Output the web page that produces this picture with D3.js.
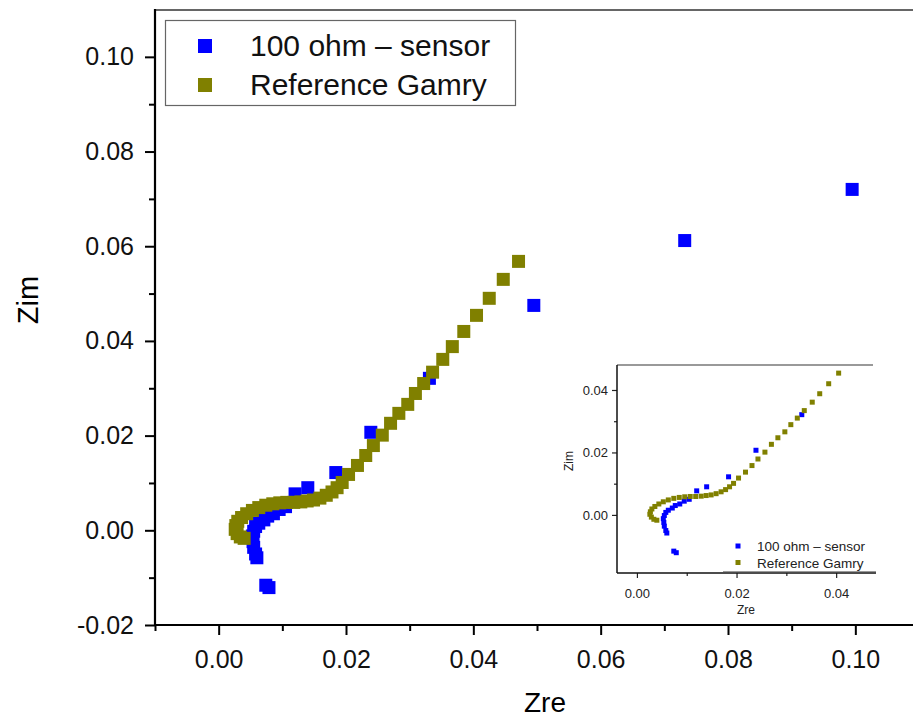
<!DOCTYPE html>
<html>
<head>
<meta charset="utf-8">
<script src="https://d3js.org/d3.v7.min.js"></script>
<style>
  body { margin: 0; background: #fff; }
  svg { display: block; font-family: "Liberation Sans", Arial, sans-serif; }
</style>
</head>
<body>
<svg width="913" height="720"></svg>
<script>
// values (Zre, Zim in ohm)
var seriesNames = ["100 ohm \u2013 sensor", "Reference Gamry"];
var seriesColors = ["#0000ff", "#808000"];

var sensorZre = [0.0995, 0.0732, 0.0495, 0.0331, 0.0239, 0.0184, 0.0140, 0.0120, 0.0105, 0.0095,
                 0.0086, 0.0077, 0.0071, 0.0063, 0.0058, 0.0055, 0.0053, 0.0054, 0.0055, 0.0058,
                 0.0060, 0.0074, 0.0079];
var sensorZim = [0.0720, 0.0612, 0.0475, 0.0321, 0.0207, 0.0122, 0.0090, 0.0077, 0.0050, 0.0044,
                 0.0035, 0.0030, 0.0022, 0.0015, 0.0008, -0.0002, -0.0012, -0.0024, -0.0036, -0.0050,
                 -0.0058, -0.0116, -0.0121];

var gamryZre = [0.0040, 0.0034, 0.0029, 0.0026, 0.0027, 0.0030, 0.0036, 0.0044, 0.0053, 0.0063,
                0.0074, 0.0085, 0.0096, 0.0107, 0.0118, 0.0129, 0.0139, 0.0149, 0.0159, 0.0169,
                0.0178, 0.0186, 0.0194, 0.0204, 0.0218, 0.0231, 0.0243, 0.0257, 0.0270, 0.0283,
                0.0297, 0.0309, 0.0322, 0.0336, 0.0352, 0.0367, 0.0385, 0.0405, 0.0425, 0.0447,
                0.0471];
var gamryZim = [-0.0017, -0.0014, -0.0007, 0.0002, 0.0010, 0.0019, 0.0027, 0.0035, 0.0042, 0.0048,
                0.0053, 0.0056, 0.0058, 0.0059, 0.0059, 0.0060, 0.0062, 0.0064, 0.0068, 0.0074,
                0.0081, 0.0090, 0.0101, 0.0118, 0.0137, 0.0158, 0.0179, 0.0201, 0.0226, 0.0247,
                0.0266, 0.0289, 0.0310, 0.0334, 0.0361, 0.0388, 0.0420, 0.0454, 0.0490, 0.0530,
                0.0568];

// tick values
var xTicks = [0.00, 0.02, 0.04, 0.06, 0.08, 0.10];
var xMinor = [-0.01, 0.01, 0.03, 0.05, 0.07, 0.09];
var yTicks = [-0.02, 0.00, 0.02, 0.04, 0.06, 0.08, 0.10];
var yMinor = [-0.01, 0.01, 0.03, 0.05, 0.07, 0.09];
var insetXTicks = [0.00, 0.02, 0.04];
var insetXMinor = [0.01, 0.03];
var insetYTicks = [0.00, 0.02, 0.04];
var insetYMinor = [0.01, 0.03];

// build point lists from the arrays
var sensor = sensorZre.map(function(d, i) { return {x: d, y: sensorZim[i]}; });
var gamry = gamryZre.map(function(d, i) { return {x: d, y: gamryZim[i]}; });
var series = [sensor, gamry];

var svg = d3.select("svg");
// plain hyphen for negatives, like the original
var fmt = function(d) { return d3.format(".2f")(d).replace("\u2212", "-"); };

// main plot scales (the frame runs off the right edge like in the picture)
var x = d3.scaleLinear().domain([-0.01, 0.11]).range([155, 919]);
var y = d3.scaleLinear().domain([-0.02, 0.11]).range([625, 9.5]);

// top frame line
svg.append("line")
   .attr("x1", 155).attr("x2", 913)
   .attr("y1", 10).attr("y2", 10)
   .attr("stroke", "#333").attr("stroke-width", 1.5);

// minor ticks first, then major axes with labels
svg.append("g")
   .attr("transform", "translate(0,625)")
   .call(d3.axisBottom(x).tickValues(xMinor).tickSize(6).tickFormat(""))
   .call(function(g) { g.select(".domain").remove(); });
svg.append("g")
   .attr("transform", "translate(155,0)")
   .call(d3.axisLeft(y).tickValues(yMinor).tickSize(6).tickFormat(""))
   .call(function(g) { g.select(".domain").remove(); });

var xAxis = svg.append("g")
   .attr("transform", "translate(0,625)")
   .call(d3.axisBottom(x).tickValues(xTicks).tickSize(10).tickPadding(15).tickFormat(fmt));
xAxis.select(".domain").remove();
xAxis.selectAll("text").attr("font-size", "25px").attr("fill", "#111");

var yAxis = svg.append("g")
   .attr("transform", "translate(155,0)")
   .call(d3.axisLeft(y).tickValues(yTicks).tickSize(10).tickPadding(11).tickFormat(fmt));
yAxis.select(".domain").remove();
yAxis.selectAll("text").attr("font-size", "25px").attr("fill", "#111");
svg.selectAll(".tick line").attr("stroke", "#000").attr("stroke-width", 2);

// axis lines
svg.append("line")
   .attr("x1", 154).attr("x2", 913).attr("y1", 625).attr("y2", 625)
   .attr("stroke", "#000").attr("stroke-width", 2.2);
svg.append("line")
   .attr("x1", 155).attr("x2", 155).attr("y1", 9).attr("y2", 626)
   .attr("stroke", "#000").attr("stroke-width", 2.2);

// axis titles
svg.append("text")
   .attr("x", 545).attr("y", 712)
   .attr("text-anchor", "middle")
   .attr("font-size", "28px")
   .text("Zre");
svg.append("text")
   .attr("transform", "translate(38,300) rotate(-90)")
   .attr("text-anchor", "middle")
   .attr("font-size", "29px")
   .text("Zim");

// main markers, sensor under the reference curve
var msize = 13;
series.forEach(function(s, k) {
  svg.append("g").selectAll("rect")
     .data(s)
     .enter().append("rect")
     .attr("x", function(d) { return x(d.x) - msize / 2; })
     .attr("y", function(d) { return y(d.y) - msize / 2; })
     .attr("width", msize)
     .attr("height", msize)
     .attr("fill", seriesColors[k]);
});

// legend box
var legend = svg.append("g");
legend.append("rect")
   .attr("x", 165.5).attr("y", 20.5)
   .attr("width", 350).attr("height", 85)
   .attr("fill", "#fff")
   .attr("stroke", "#666").attr("stroke-width", 1.2);
seriesNames.forEach(function(name, k) {
  legend.append("rect")
     .attr("x", 198).attr("y", 39 + k * 39)
     .attr("width", 14).attr("height", 14)
     .attr("fill", seriesColors[k]);
  legend.append("text")
     .attr("x", 250).attr("y", 56 + k * 39)
     .attr("font-size", "30px")
     .attr("fill", "#111")
     .text(name);
});

// ---- inset ----
var xi = d3.scaleLinear().domain([-0.004, 0.048]).range([617, 876]);
var yi = d3.scaleLinear().domain([-0.0186, 0.048]).range([573, 365]);
var inset = svg.append("g");

inset.append("rect")
   .attr("x", 617).attr("y", 365).attr("width", 259).attr("height", 208)
   .attr("fill", "#fff");
svg.append("clipPath").attr("id", "insetClip")
   .append("rect")
   .attr("x", 617).attr("y", 365).attr("width", 259).attr("height", 208);

inset.append("line")
   .attr("x1", 617).attr("x2", 873).attr("y1", 365).attr("y2", 365)
   .attr("stroke", "#777").attr("stroke-width", 1.5);

inset.append("g")
   .attr("transform", "translate(0,573)")
   .call(d3.axisBottom(xi).tickValues(insetXMinor).tickSize(3).tickFormat(""))
   .call(function(g) { g.select(".domain").remove(); });
inset.append("g")
   .attr("transform", "translate(617,0)")
   .call(d3.axisLeft(yi).tickValues(insetYMinor).tickSize(3).tickFormat(""))
   .call(function(g) { g.select(".domain").remove(); });
var xiAxis = inset.append("g")
   .attr("transform", "translate(0,573)")
   .call(d3.axisBottom(xi).tickValues(insetXTicks).tickSize(5).tickPadding(11).tickFormat(fmt));
xiAxis.select(".domain").remove();
var yiAxis = inset.append("g")
   .attr("transform", "translate(617,0)")
   .call(d3.axisLeft(yi).tickValues(insetYTicks).tickSize(5).tickPadding(4).tickFormat(fmt));
yiAxis.select(".domain").remove();
inset.selectAll("text").attr("font-size", "13px").attr("fill", "#222");
inset.selectAll(".tick line").attr("stroke", "#222").attr("stroke-width", 1.2);

// inset markers
var plotArea = inset.append("g").attr("clip-path", "url(#insetClip)");
var isize = 5;
series.forEach(function(s, k) {
  plotArea.append("g").selectAll("rect")
     .data(s)
     .enter().append("rect")
     .attr("x", function(d) { return xi(d.x) - isize / 2; })
     .attr("y", function(d) { return yi(d.y) - isize / 2; })
     .attr("width", isize)
     .attr("height", isize)
     .attr("fill", seriesColors[k]);
});

// inset axis lines
inset.append("line")
   .attr("x1", 617).attr("x2", 876).attr("y1", 573).attr("y2", 573)
   .attr("stroke", "#111").attr("stroke-width", 1.5);
inset.append("line")
   .attr("x1", 617).attr("x2", 617).attr("y1", 365).attr("y2", 573)
   .attr("stroke", "#111").attr("stroke-width", 1.5);
inset.append("line")
   .attr("x1", 723).attr("x2", 876).attr("y1", 571.5).attr("y2", 571.5)
   .attr("stroke", "#999").attr("stroke-width", 1);

// inset titles
inset.append("text")
   .attr("x", 746).attr("y", 614)
   .attr("text-anchor", "middle")
   .attr("font-size", "12px").attr("fill", "#222")
   .text("Zre");
inset.append("text")
   .attr("transform", "translate(573,461) rotate(-90)")
   .attr("text-anchor", "middle")
   .attr("font-size", "12px").attr("fill", "#222")
   .text("Zim");

// inset legend
seriesNames.forEach(function(name, k) {
  inset.append("rect")
     .attr("x", 735.5).attr("y", 543.5 + k * 16.5)
     .attr("width", 5).attr("height", 5)
     .attr("fill", seriesColors[k]);
  inset.append("text")
     .attr("x", 757).attr("y", 551 + k * 16.5)
     .attr("font-size", "13.5px").attr("fill", "#222")
     .text(name);
});
</script>
</body>
</html>
